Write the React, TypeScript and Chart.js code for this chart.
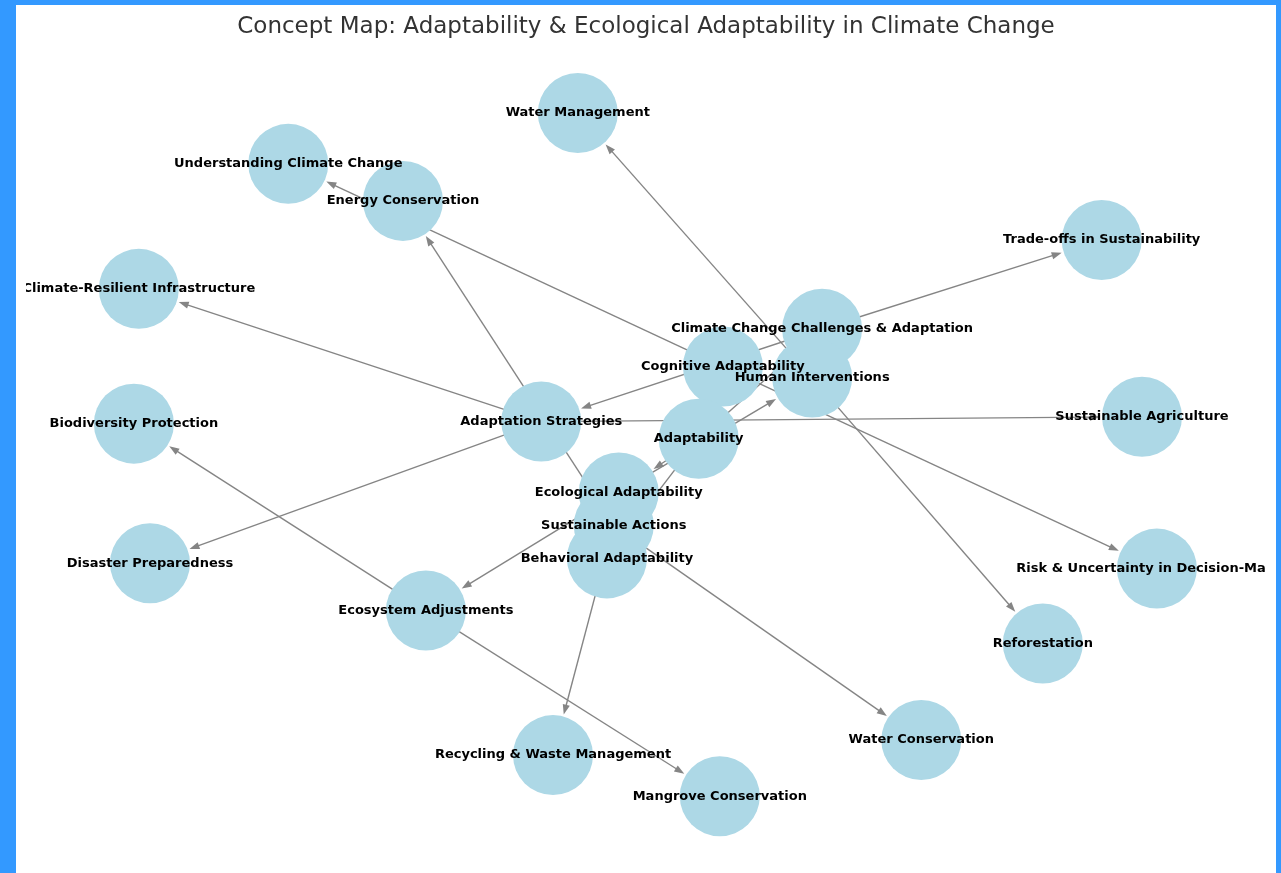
import { useEffect, useRef } from "react";
import { Chart, registerables } from "chart.js";

Chart.register(...registerables);

const TITLE = "Concept Map: Adaptability & Ecological Adaptability in Climate Change";

const NODE_NAMES = [
  "Water Management",
  "Understanding Climate Change",
  "Energy Conservation",
  "Trade-offs in Sustainability",
  "Climate-Resilient Infrastructure",
  "Climate Change Challenges & Adaptation",
  "Cognitive Adaptability",
  "Human Interventions",
  "Sustainable Agriculture",
  "Biodiversity Protection",
  "Adaptation Strategies",
  "Adaptability",
  "Ecological Adaptability",
  "Sustainable Actions",
  "Behavioral Adaptability",
  "Disaster Preparedness",
  "Risk & Uncertainty in Decision-Making",
  "Reforestation",
  "Ecosystem Adjustments",
  "Water Conservation",
  "Recycling & Waste Management",
  "Mangrove Conservation",
];

const NODE_X = [
  -0.11, -0.577, -0.392, 0.735, -0.818, 0.284, 0.124, 0.268, 0.8, -0.826, -0.169,
  0.085, -0.044, -0.052, -0.063, -0.8, 0.824, 0.64, -0.355, 0.444, -0.15, 0.119,
];

const NODE_Y = [
  0.842, 0.717, 0.626, 0.53, 0.41, 0.312, 0.219, 0.192, 0.096, 0.079, 0.084,
  0.042, -0.09, -0.171, -0.252, -0.264, -0.277, -0.461, -0.38, -0.698, -0.735, -0.836,
];

const EDGE_SOURCES = [
  "Adaptability",
  "Adaptability",
  "Adaptability",
  "Adaptability",
  "Cognitive Adaptability",
  "Cognitive Adaptability",
  "Ecological Adaptability",
  "Ecological Adaptability",
  "Ecosystem Adjustments",
  "Ecosystem Adjustments",
  "Human Interventions",
  "Human Interventions",
  "Behavioral Adaptability",
  "Sustainable Actions",
  "Sustainable Actions",
  "Sustainable Actions",
  "Climate Change Challenges & Adaptation",
  "Climate Change Challenges & Adaptation",
  "Adaptation Strategies",
  "Adaptation Strategies",
  "Adaptation Strategies",
];

const EDGE_TARGETS = [
  "Cognitive Adaptability",
  "Ecological Adaptability",
  "Behavioral Adaptability",
  "Climate Change Challenges & Adaptation",
  "Understanding Climate Change",
  "Risk & Uncertainty in Decision-Making",
  "Ecosystem Adjustments",
  "Human Interventions",
  "Biodiversity Protection",
  "Mangrove Conservation",
  "Reforestation",
  "Water Management",
  "Sustainable Actions",
  "Energy Conservation",
  "Recycling & Waste Management",
  "Water Conservation",
  "Trade-offs in Sustainability",
  "Adaptation Strategies",
  "Sustainable Agriculture",
  "Climate-Resilient Infrastructure",
  "Disaster Preparedness",
];

const NODE_RADIUS = 40;
const NODE_COLOR = "#add8e6";
const EDGE_COLOR = "#858585";
const ARROW_LEN = 10;
const ARROW_HALF = 3.6;
const SHRINK = 42;

const graphPlugin = {
  id: "graphPlugin",
  beforeDatasetsDraw(chart: any) {
    const { ctx, chartArea, scales } = chart;
    const xs = scales.x;
    const ys = scales.y;
    ctx.save();
    ctx.beginPath();
    ctx.rect(chartArea.left, chartArea.top, chartArea.right - chartArea.left, chartArea.bottom - chartArea.top);
    ctx.clip();
    ctx.strokeStyle = EDGE_COLOR;
    ctx.fillStyle = EDGE_COLOR;
    ctx.lineWidth = 1.4;
    EDGE_SOURCES.forEach((s, i) => {
      const si = NODE_NAMES.indexOf(s);
      const ti = NODE_NAMES.indexOf(EDGE_TARGETS[i]);
      const x1 = xs.getPixelForValue(NODE_X[si]);
      const y1 = ys.getPixelForValue(NODE_Y[si]);
      const x2 = xs.getPixelForValue(NODE_X[ti]);
      const y2 = ys.getPixelForValue(NODE_Y[ti]);
      const dx = x2 - x1;
      const dy = y2 - y1;
      const len = Math.hypot(dx, dy);
      const ux = dx / len;
      const uy = dy / len;
      const tx = x2 - ux * SHRINK;
      const ty = y2 - uy * SHRINK;
      const bx = tx - ux * ARROW_LEN;
      const by = ty - uy * ARROW_LEN;
      ctx.beginPath();
      ctx.moveTo(x1, y1);
      ctx.lineTo(bx + ux * 1, by + uy * 1);
      ctx.stroke();
      ctx.beginPath();
      ctx.moveTo(tx, ty);
      ctx.lineTo(bx - uy * ARROW_HALF, by + ux * ARROW_HALF);
      ctx.lineTo(bx + uy * ARROW_HALF, by - ux * ARROW_HALF);
      ctx.closePath();
      ctx.fill();
    });
    ctx.restore();
  },
  afterDatasetsDraw(chart: any) {
    const { ctx, chartArea, scales } = chart;
    const xs = scales.x;
    const ys = scales.y;
    ctx.save();
    ctx.beginPath();
    ctx.rect(chartArea.left, chartArea.top, chartArea.right - chartArea.left, chartArea.bottom - chartArea.top);
    ctx.clip();
    ctx.fillStyle = "#000000";
    ctx.font = 'bold 13px "DejaVu Sans"';
    ctx.textAlign = "center";
    ctx.textBaseline = "middle";
    NODE_NAMES.forEach((name, i) => {
      ctx.fillText(name, xs.getPixelForValue(NODE_X[i]), ys.getPixelForValue(NODE_Y[i]));
    });
    ctx.restore();
  },
};

export default function App() {
  const canvasRef = useRef<HTMLCanvasElement | null>(null);

  useEffect(() => {
    if (!canvasRef.current) return;
    const chart = new Chart(canvasRef.current, {
      type: "scatter",
      data: {
        datasets: [
          {
            label: "Concepts",
            data: NODE_NAMES.map((_, i) => ({ x: NODE_X[i], y: NODE_Y[i] })),
            pointRadius: NODE_RADIUS,
            pointHoverRadius: NODE_RADIUS,
            backgroundColor: NODE_COLOR,
            borderWidth: 0,
            clip: false as any,
          },
        ],
      },
      options: {
        responsive: false,
        animation: false,
        events: [],
        layout: { autoPadding: false, padding: { left: 10, right: 10, top: 0, bottom: 10 } },
        scales: {
          x: { type: "linear", min: -1, max: 1, display: false },
          y: { type: "linear", min: -1, max: 1, display: false },
        },
        plugins: {
          legend: { display: false },
          tooltip: { enabled: false },
          title: {
            display: true,
            text: TITLE,
            color: "#333333",
            font: { family: '"DejaVu Sans"', size: 23, weight: "normal" as any },
            padding: { top: 8, bottom: 8 },
          },
        },
      },
      plugins: [graphPlugin],
    });
    return () => chart.destroy();
  }, []);

  return (
    <div style={{ position: "fixed", left: 0, top: 0, width: 1281, height: 873, background: "#3399ff", overflow: "hidden" }}>
      <div style={{ position: "absolute", left: 16, top: 5, width: 1260, height: 868, background: "#ffffff" }}>
        <canvas ref={canvasRef} width={1260} height={868} style={{ display: "block" }} />
      </div>
    </div>
  );
}
